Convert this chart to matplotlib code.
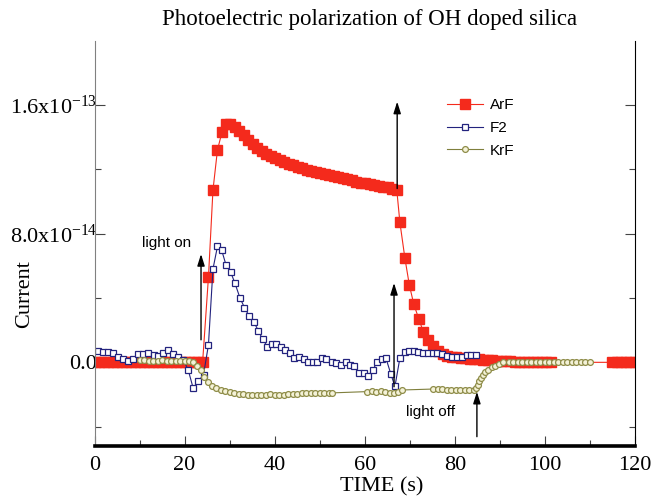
import numpy as np
import matplotlib.pyplot as plt

plt.rcParams['font.family'] = ['Liberation Serif', 'DejaVu Serif']
plt.rcParams['mathtext.fontset'] = 'custom'
plt.rcParams['mathtext.rm'] = 'Liberation Serif'
plt.rcParams['mathtext.it'] = 'Liberation Serif:italic'

SCALE = 1e-14

# ArF (red, filled squares)
arf_t = [0, 1, 2, 3, 4, 5, 6, 7, 8, 9, 10, 11, 12, 13, 14, 15, 16, 17, 18, 19, 20, 21, 22, 23, 24,
         25.3, 26.3, 27.3, 28.3, 29.2, 30.1, 31.1, 32.1, 33.1, 34.1, 35.1, 36.1, 37.1, 38.1, 39.1,
         40.1, 41.1, 42.1, 43.1, 44.1, 45.1, 46.1, 47.1, 48.1, 49.1, 50.1, 51.1, 52.1, 53.1, 54.1,
         55.1, 56.1, 57.1, 58.1, 59.1, 60.1, 61.1, 62.1, 63.1, 64.1, 65.1, 66.1, 67.1,
         67.8, 68.9, 69.9, 70.9, 72.0, 73.0, 74.1, 75.2, 76.3, 77.3, 78.3, 79.3, 80.3, 81.3, 82.3,
         83.3, 84.3, 85.3, 86.3, 87.3, 88.3, 89.3, 90.3, 91.3, 92.3, 93.3, 94.3, 95.3, 96.3, 97.3,
         98.3, 99.3, 100.3, 101.3, 115, 116, 117, 118, 119, 120]
arf_y = [0, 0, 0, 0, 0, 0, 0, 0, 0, 0, 0, 0, 0, 0, 0, 0, 0, 0, 0, 0, 0, 0, 0, 0, 0,
         5.3, 10.7, 13.2, 14.3, 14.8, 14.8, 14.6, 14.35, 14.1, 13.8, 13.55, 13.35, 13.15, 12.95, 12.8,
         12.68, 12.56, 12.45, 12.35, 12.25, 12.15, 12.05, 11.97, 11.9, 11.82, 11.75, 11.68, 11.62, 11.55, 11.5,
         11.45, 11.38, 11.3, 11.22, 11.17, 11.12, 11.07, 11.02, 10.97, 10.92, 10.87, 10.8, 10.74,
         8.7, 6.5, 4.8, 3.6, 2.7, 1.9, 1.4, 1.0, 0.7, 0.52, 0.42, 0.35, 0.3, 0.27, 0.25,
         0.22, 0.2, 0.19, 0.17, 0.15, 0.13, 0.11, 0.1, 0.08, 0.07, 0.05, 0.04, 0.03, 0.02, 0.02,
         0.01, 0, 0, 0, 0, 0, 0, 0, 0, 0]

# F2 (navy, open squares)
f2_t = [0.8, 1.9, 3.1, 4.2, 5.3, 6.4, 7.5, 8.6, 9.7, 10.8, 11.9, 13.1, 14.2, 15.3, 16.4, 17.5,
        18.6, 19.7, 20.8, 21.9, 23.0, 24.2, 25.3, 26.3, 27.3, 28.2, 29.2, 30.2, 31.2, 32.3, 33.3,
        34.3, 35.4, 36.4, 37.3, 38.4, 39.3, 40.3, 41.3, 42.3, 43.3, 44.3, 45.3, 46.5, 47.5, 48.6,
        49.5, 50.6, 51.5, 52.7, 53.6, 54.7, 55.8, 56.7, 57.6, 58.8, 59.8, 60.8, 61.8, 62.8, 63.8,
        64.7, 65.8, 66.7, 67.8, 68.9, 69.9, 70.9, 71.9, 73.0, 74.0, 75.1, 76.1, 77.2, 78.2, 79.3,
        80.4, 81.5, 82.6, 83.7, 84.8]
f2_y = [0.71, 0.67, 0.63, 0.57, 0.32, 0.20, 0.11, 0.20, 0.53, 0.53, 0.61, 0.47, 0.40, 0.57, 0.78, 0.53,
        0.32, 0.16, -0.47, -1.60, -1.19, -0.78, 1.09, 5.8, 7.2, 7.0, 6.05, 5.63, 4.9, 4.0, 3.4,
        2.9, 2.5, 1.95, 1.44, 0.98, 1.13, 1.13, 0.94, 0.78, 0.57, 0.26, 0.36, 0.22, 0.05, -0.01,
        0.05, 0.26, 0.20, 0.05, -0.05, -0.16, -0.01, -0.16, -0.22, -0.67, -0.67, -0.82, -0.47, 0.05, 0.20,
        0.26, -0.73, -1.50, 0.26, 0.67, 0.73, 0.73, 0.67, 0.60, 0.57, 0.57, 0.55, 0.50, 0.40, 0.36,
        0.30, 0.36, 0.47, 0.47, 0.47]

# KrF (olive, open circles)
krf_t = [10, 11, 12, 13, 14, 15, 16, 17, 18, 19, 20, 21, 21.9, 22.8, 23.6, 24.4, 25.2, 26.1, 27.0,
         28.0, 29.0, 30, 31, 32, 33, 34, 35, 36, 37, 38, 39, 40, 41, 42, 43, 44, 45, 46, 47, 48, 49,
         50, 51, 52, 52.7, 60.5, 61.5, 62.5, 63.5, 64.5, 65.5, 66.5, 67.3, 68.2,
         75.2, 76.2, 77.2, 78.2, 79.2, 80.2, 81.2, 82.2, 83.2, 84.2, 84.7, 85.1, 85.4, 85.7, 86.2,
         86.7, 87.4, 88.2, 88.9, 89.7, 90.8, 92, 93, 94, 95, 96, 97, 98, 99, 100, 101, 102, 103,
         104, 105, 106, 107, 108, 109, 110]
krf_y = [0.12, 0.12, 0.1, 0.1, 0.11, 0.12, 0.1, 0.1, 0.11, 0.1, 0.08, 0.06, 0.03, -0.2, -0.5, -0.9,
         -1.2, -1.45, -1.6, -1.72, -1.8, -1.86, -1.9, -1.95, -1.98, -2.0, -2.02, -2.04, -2.05, -2.02,
         -1.98, -2.0, -2.02, -2.0, -1.98, -1.95, -1.95, -1.92, -1.9, -1.9, -1.92, -1.9, -1.88, -1.9,
         -1.9, -1.82, -1.8, -1.82, -1.78, -1.82, -1.88, -1.9, -1.85, -1.72,
         -1.66, -1.67, -1.68, -1.7, -1.7, -1.7, -1.72, -1.72, -1.73, -1.75, -1.62, -1.39, -1.19, -1.0,
         -0.8, -0.6, -0.45, -0.3, -0.2, -0.1, -0.01, 0.04, 0.05, 0.05, 0.05, 0.05, 0.05, 0.05, 0.05,
         0.05, 0.05, 0.05, 0.05, 0.05, 0.05, 0.05, 0.05, 0.05, 0.05, 0.05]

fig = plt.figure(figsize=(6.52, 4.99), dpi=100)
ax = fig.add_axes([94.5 / 652, 1 - 446 / 499, 540.5 / 652, 405.5 / 499])

ax.plot(arf_t, np.array(arf_y) * SCALE, '-s', color='#f42a1c', lw=0.8, ms=6.6,
        mfc='#f42a1c', mec='#f42a1c', label='ArF')
ax.plot(f2_t, np.array(f2_y) * SCALE, '-s', color='#23237e', lw=0.8, ms=3.8,
        mfc='white', mec='#23237e', mew=0.9, label='F2')
ax.plot(krf_t, np.array(krf_y) * SCALE, '-o', color='#7f7f3c', lw=0.8, ms=4.2,
        mfc='#f4f2d8', mec='#8e8c48', mew=0.9, label='KrF')

ax.set_xlim(0, 120)
ax.set_ylim(-5.2e-14, 2.0e-13)

ax.set_xticks([0, 20, 40, 60, 80, 100, 120])
ax.set_xticks([10, 30, 50, 70, 90, 110], minor=True)
ax.set_yticks([0, 8e-14, 1.6e-13],
              ['0.0', r'$8.0\mathrm{x}10^{-14}$', r'$1.6\mathrm{x}10^{-13}$'])
ax.set_yticks([-4e-14, 4e-14, 1.2e-13], minor=True)
ax.tick_params(which='both', direction='in', right=True, color='#444444')
ax.tick_params(which='major', length=7, width=0.8)
ax.tick_params(which='minor', length=4, width=0.8)
ax.tick_params(axis='x', labelsize=16, pad=7)
ax.tick_params(axis='y', labelsize=16, pad=-2)

ax.spines['top'].set_visible(False)
ax.spines['left'].set_color('#808080')
ax.spines['left'].set_linewidth(0.8)
ax.spines['right'].set_color('black')
ax.spines['right'].set_linewidth(0.8)
ax.spines['bottom'].set_color('black')
ax.spines['bottom'].set_linewidth(2.6)

arrow = dict(arrowstyle='-|>,head_width=0.22,head_length=0.7', color='black', lw=1,
             shrinkA=0, shrinkB=0, mutation_scale=10)
ax.annotate('', xy=(23.65, 6.73e-14), xytext=(23.65, 1.40e-14), arrowprops=arrow)
ax.annotate('', xy=(67.2, 16.2e-14), xytext=(67.2, 10.8e-14), arrowprops=arrow)
ax.annotate('', xy=(66.5, 4.93e-14), xytext=(66.5, -1.52e-14), arrowprops=arrow)
ax.annotate('', xy=(84.9, -1.83e-14), xytext=(84.9, -4.62e-14), arrowprops=arrow)

sans = ['Liberation Sans', 'DejaVu Sans']
ax.text(16.1, 7.41e-14, 'light on', family=sans, fontsize=11, ha='center', va='center')
ax.text(74.6, -3.07e-14, 'light off', family=sans, fontsize=11, ha='center', va='center')

ax.legend(loc='upper left', bbox_to_anchor=(447 / 652, 1 - 98 / 499),
          bbox_transform=fig.transFigure, frameon=False,
          prop={'family': sans, 'size': 11}, handlelength=2.35, handletextpad=0.45,
          labelspacing=0.58, borderpad=0, borderaxespad=0)

fig.text(370 / 652, 1 - 20 / 499, 'Photoelectric polarization of OH doped silica',
         fontsize=16.5, ha='center', va='center')
fig.text(382 / 652, 1 - 487 / 499, 'TIME (s)', fontsize=16, ha='center', va='center')
fig.text(25 / 652, 1 - 294 / 499, 'Current', fontsize=16, ha='center', va='center',
         rotation=90)

fig.savefig('out.png', dpi=100)
